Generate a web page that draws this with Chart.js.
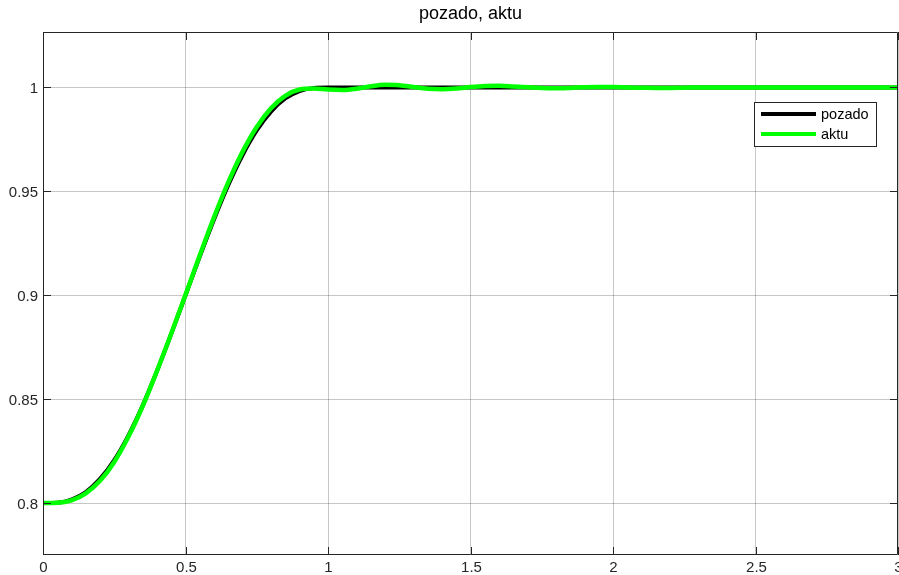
<!DOCTYPE html>
<html lang="en">
<head>
    <meta charset="UTF-8">
    <title>pozado, aktu</title>
    <script src="https://cdn.jsdelivr.net/npm/chart.js"></script>
    <style>
        body { margin: 0; padding: 0; background: white; }
        #wrap { width: 899px; height: 575px; }
    </style>
</head>
<body>
    <div id="wrap"><canvas id="plot" width="899" height="575"></canvas></div>
    <script>
        // data
        const time = [0, 0.05, 0.1, 0.15, 0.2, 0.25, 0.3, 0.35, 0.4, 0.45, 0.5, 0.55, 0.6, 0.65, 0.7, 0.75, 0.8, 0.85, 0.9, 0.95,
            1, 1.05, 1.1, 1.15, 1.2, 1.25, 1.3, 1.35, 1.4, 1.45, 1.5, 1.55, 1.6, 1.65, 1.7, 1.75, 1.8, 1.85, 1.9, 1.95,
            2, 2.05, 2.1, 2.15, 2.2, 2.25, 2.3, 2.4, 2.5, 2.6, 2.7, 2.8, 2.9, 3];
        const pozado = [0.8, 0.8002, 0.8017, 0.8053, 0.8116, 0.8207, 0.8326, 0.8470, 0.8635, 0.8814, 0.9, 0.9186, 0.9365, 0.9530, 0.9674, 0.9793, 0.9884, 0.9947, 0.9983, 0.9998,
            1, 1, 1, 1, 1, 1, 1, 1, 1, 1, 1, 1, 1, 1, 1, 1, 1, 1, 1, 1,
            1, 1, 1, 1, 1, 1, 1, 1, 1, 1, 1, 1, 1, 1];
        const aktu = [0.8, 0.8001, 0.8013, 0.8047, 0.8107, 0.8198, 0.8320, 0.8467, 0.8636, 0.8816, 0.9002, 0.9192, 0.9375, 0.9543, 0.9690, 0.9810, 0.9900, 0.9960, 0.9990, 0.9995,
            0.9990, 0.9988, 0.9994, 1.0006, 1.0013, 1.0011, 1.0002, 0.9994, 0.9992, 0.9995, 1.0002, 1.0007, 1.0008, 1.0005, 1.0001, 0.9997, 0.9996, 0.9998, 1.0001, 1.0002,
            1.0002, 1.0, 0.9999, 0.9998, 0.9998, 0.9999, 1, 1, 1, 1, 1, 1, 1, 1];
        const xTicks = [0, 0.5, 1, 1.5, 2, 2.5, 3];
        const yTicks = [0.8, 0.85, 0.9, 0.95, 1];
        const seriesNames = ['pozado', 'aktu'];
        const seriesColors = ['#000000', '#00ff00'];

        const axisColor = '#262626';
        const fontFamily = '"Liberation Sans", Arial, sans-serif';

        // MATLAB-like box, inner ticks, labels, title and legend
        const matlabAxes = {
            id: 'matlabAxes',
            afterDatasetsDraw(chart) {
                const ctx = chart.ctx;
                const a = chart.chartArea;
                const xs = chart.scales.x, ys = chart.scales.y;
                ctx.save();
                ctx.strokeStyle = axisColor;
                ctx.lineWidth = 1;
                ctx.beginPath();
                ctx.rect(a.left + 0.5, a.top + 0.5, a.right - a.left - 1, a.bottom - a.top - 1);
                ctx.stroke();

                ctx.fillStyle = axisColor;
                ctx.font = '15px ' + fontFamily;
                ctx.textAlign = 'center';
                ctx.textBaseline = 'middle';
                xTicks.forEach(v => {
                    const px = Math.round(xs.getPixelForValue(v)) + 0.5;
                    ctx.beginPath();
                    ctx.moveTo(px, a.bottom); ctx.lineTo(px, a.bottom - 8);
                    ctx.moveTo(px, a.top); ctx.lineTo(px, a.top + 8);
                    ctx.stroke();
                    ctx.fillText(String(v), px, a.bottom + 13);
                });
                ctx.textAlign = 'right';
                yTicks.forEach(v => {
                    const py = Math.round(ys.getPixelForValue(v)) + 0.5;
                    ctx.beginPath();
                    ctx.moveTo(a.left, py); ctx.lineTo(a.left + 8, py);
                    ctx.moveTo(a.right, py); ctx.lineTo(a.right - 8, py);
                    ctx.stroke();
                    ctx.fillText(String(v), a.left - 5, py + 1);
                });

                // title
                ctx.textAlign = 'center';
                ctx.textBaseline = 'alphabetic';
                ctx.font = '18px ' + fontFamily;
                ctx.fillStyle = '#000';
                ctx.fillText('pozado, aktu', (a.left + a.right) / 2, 19);

                // legend box
                const lx = 754, ly = 102, lw = 122, lh = 44;
                ctx.fillStyle = '#fff';
                ctx.fillRect(lx, ly, lw, lh);
                ctx.strokeStyle = axisColor;
                ctx.lineWidth = 1;
                ctx.strokeRect(lx + 0.5, ly + 0.5, lw, lh);
                ctx.textAlign = 'left';
                ctx.textBaseline = 'middle';
                ctx.font = '14.5px ' + fontFamily;
                seriesNames.forEach((name, i) => {
                    const yy = ly + 12 + i * 20;
                    ctx.strokeStyle = seriesColors[i];
                    ctx.lineWidth = 4;
                    ctx.beginPath();
                    ctx.moveTo(lx + 7, yy); ctx.lineTo(lx + 62, yy);
                    ctx.stroke();
                    ctx.fillStyle = '#000';
                    ctx.fillText(name, lx + 67, yy + 1);
                });
                ctx.restore();
            }
        };

        const ctx = document.getElementById('plot').getContext('2d');
        new Chart(ctx, {
            type: 'line',
            data: {
                datasets: [
                    { label: seriesNames[0], data: time.map((t, i) => ({ x: t, y: pozado[i] })), borderColor: seriesColors[0], borderWidth: 4, pointRadius: 0, cubicInterpolationMode: 'monotone', order: 1 },
                    { label: seriesNames[1], data: time.map((t, i) => ({ x: t, y: aktu[i] })), borderColor: seriesColors[1], borderWidth: 4.5, pointRadius: 0, cubicInterpolationMode: 'monotone', order: 0 }
                ]
            },
            options: {
                responsive: false,
                animation: false,
                layout: { padding: { left: 43, top: 32, right: 1, bottom: 20 } },
                plugins: { legend: { display: false }, tooltip: { enabled: false } },
                scales: {
                    x: {
                        type: 'linear', min: 0, max: 3,
                        afterBuildTicks: s => { s.ticks = xTicks.map(v => ({ value: v })); },
                        ticks: { display: false },
                        grid: { color: 'rgba(0,0,0,0.22)', drawTicks: false },
                        border: { display: false }
                    },
                    y: {
                        type: 'linear', min: 0.775, max: 1.0267,
                        afterBuildTicks: s => { s.ticks = yTicks.map(v => ({ value: v })); },
                        ticks: { display: false },
                        grid: { color: 'rgba(0,0,0,0.22)', drawTicks: false },
                        border: { display: false }
                    }
                }
            },
            plugins: [matlabAxes]
        });
    </script>
</body>
</html>
